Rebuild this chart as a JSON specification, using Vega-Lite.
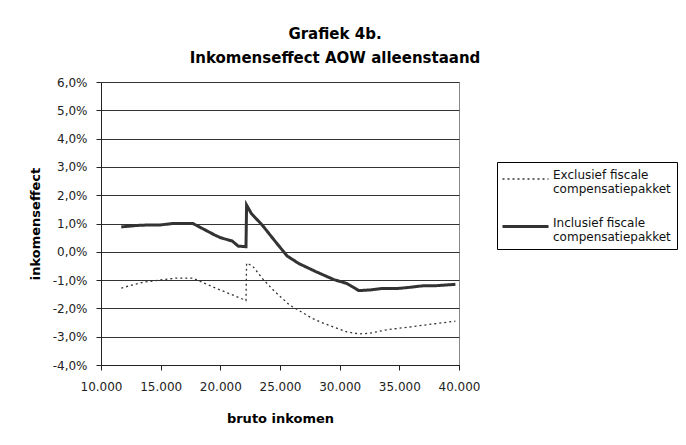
{
  "$schema": "https://vega.github.io/schema/vega-lite/v6.json",
  "width": 358,
  "height": 283,
  "autosize": "none",
  "padding": {"left": 101, "top": 82, "right": 227, "bottom": 80},
  "background": "white",
  "config": {
    "font": "DejaVu Sans",
    "view": {"stroke": "#888888", "strokeWidth": 1}
  },
  "title": {
    "text": ["Grafiek 4b.", "Inkomenseffect AOW alleenstaand"],
    "fontSize": 15,
    "fontWeight": "bold",
    "color": "#000",
    "anchor": "middle",
    "dx": 55,
    "offset": 10,
    "lineHeight": 24
  },
  "data": {
    "values": [
      {"serie": "Exclusief", "i": 1, "x": 11700, "y": -1.28},
      {"serie": "Exclusief", "i": 2, "x": 13500, "y": -1.08},
      {"serie": "Exclusief", "i": 3, "x": 15200, "y": -0.98},
      {"serie": "Exclusief", "i": 4, "x": 16300, "y": -0.93},
      {"serie": "Exclusief", "i": 5, "x": 17700, "y": -0.93},
      {"serie": "Exclusief", "i": 6, "x": 18600, "y": -1.1},
      {"serie": "Exclusief", "i": 7, "x": 19700, "y": -1.3},
      {"serie": "Exclusief", "i": 8, "x": 21000, "y": -1.52},
      {"serie": "Exclusief", "i": 9, "x": 22150, "y": -1.72},
      {"serie": "Exclusief", "i": 10, "x": 22200, "y": -0.4},
      {"serie": "Exclusief", "i": 11, "x": 22700, "y": -0.5},
      {"serie": "Exclusief", "i": 12, "x": 23600, "y": -0.98},
      {"serie": "Exclusief", "i": 13, "x": 24500, "y": -1.38},
      {"serie": "Exclusief", "i": 14, "x": 25800, "y": -1.88},
      {"serie": "Exclusief", "i": 15, "x": 27700, "y": -2.35},
      {"serie": "Exclusief", "i": 16, "x": 28500, "y": -2.5},
      {"serie": "Exclusief", "i": 17, "x": 30600, "y": -2.83},
      {"serie": "Exclusief", "i": 18, "x": 31600, "y": -2.9},
      {"serie": "Exclusief", "i": 19, "x": 32500, "y": -2.88},
      {"serie": "Exclusief", "i": 20, "x": 34000, "y": -2.75},
      {"serie": "Exclusief", "i": 21, "x": 36000, "y": -2.65},
      {"serie": "Exclusief", "i": 22, "x": 37800, "y": -2.55},
      {"serie": "Exclusief", "i": 23, "x": 39700, "y": -2.45},
      {"serie": "Inclusief", "i": 1, "x": 11700, "y": 0.88},
      {"serie": "Inclusief", "i": 2, "x": 13000, "y": 0.93},
      {"serie": "Inclusief", "i": 3, "x": 14000, "y": 0.95},
      {"serie": "Inclusief", "i": 4, "x": 15000, "y": 0.95},
      {"serie": "Inclusief", "i": 5, "x": 16000, "y": 1.0},
      {"serie": "Inclusief", "i": 6, "x": 17700, "y": 1.0},
      {"serie": "Inclusief", "i": 7, "x": 19500, "y": 0.6},
      {"serie": "Inclusief", "i": 8, "x": 20000, "y": 0.5},
      {"serie": "Inclusief", "i": 9, "x": 21000, "y": 0.38},
      {"serie": "Inclusief", "i": 10, "x": 21500, "y": 0.2},
      {"serie": "Inclusief", "i": 11, "x": 22150, "y": 0.18},
      {"serie": "Inclusief", "i": 12, "x": 22200, "y": 1.65},
      {"serie": "Inclusief", "i": 13, "x": 22600, "y": 1.35},
      {"serie": "Inclusief", "i": 14, "x": 23500, "y": 0.95},
      {"serie": "Inclusief", "i": 15, "x": 24500, "y": 0.42},
      {"serie": "Inclusief", "i": 16, "x": 25600, "y": -0.15},
      {"serie": "Inclusief", "i": 17, "x": 26600, "y": -0.42},
      {"serie": "Inclusief", "i": 18, "x": 28000, "y": -0.7},
      {"serie": "Inclusief", "i": 19, "x": 29500, "y": -0.98},
      {"serie": "Inclusief", "i": 20, "x": 30600, "y": -1.12},
      {"serie": "Inclusief", "i": 21, "x": 31600, "y": -1.37},
      {"serie": "Inclusief", "i": 22, "x": 32500, "y": -1.35},
      {"serie": "Inclusief", "i": 23, "x": 33500, "y": -1.3},
      {"serie": "Inclusief", "i": 24, "x": 34800, "y": -1.3},
      {"serie": "Inclusief", "i": 25, "x": 36000, "y": -1.25},
      {"serie": "Inclusief", "i": 26, "x": 37000, "y": -1.2},
      {"serie": "Inclusief", "i": 27, "x": 38000, "y": -1.2},
      {"serie": "Inclusief", "i": 28, "x": 39700, "y": -1.15}
    ]
  },
  "mark": {"type": "line", "color": "#333333"},
  "encoding": {
    "x": {
      "field": "x",
      "type": "quantitative",
      "scale": {"domain": [10000, 40000], "nice": false, "zero": false},
      "axis": {
        "title": "bruto inkomen",
        "titleFontSize": 13,
        "titleFontWeight": "bold",
        "titleColor": "#000",
        "titlePadding": 20,
        "values": [10000, 15000, 20000, 25000, 30000, 35000, 40000],
        "labelExpr": "replace(format(datum.value, ','), ',', '.')",
        "labelFontSize": 12,
        "labelColor": "#222",
        "labelPadding": 11,
        "labelOverlap": false,
        "labelFlush": false,
        "grid": false,
        "domainColor": "#222",
        "tickColor": "#222",
        "tickSize": 5
      }
    },
    "y": {
      "field": "y",
      "type": "quantitative",
      "scale": {"domain": [-4, 6], "nice": false},
      "axis": {
        "title": "inkomenseffect",
        "titleFontSize": 13,
        "titleFontWeight": "bold",
        "titleColor": "#000",
        "titlePadding": 10,
        "values": [-4, -3, -2, -1, 0, 1, 2, 3, 4, 5, 6],
        "labelExpr": "replace(replace(format(datum.value, '.1f'), '.', ','), '\u2212', '-') + '%'",
        "labelFontSize": 12,
        "labelColor": "#222",
        "labelPadding": 9,
        "labelOverlap": false,
        "grid": true,
        "gridColor": "#333333",
        "gridWidth": 1,
        "domainColor": "#222",
        "tickColor": "#222",
        "tickSize": 5
      }
    },
    "order": {"field": "i", "type": "quantitative"},
    "strokeDash": {
      "field": "serie",
      "type": "nominal",
      "scale": {"domain": ["Exclusief", "Inclusief"], "range": [[2, 3], [1, 0]]},
      "legend": {
        "title": null,
        "orient": "none",
        "legendX": 396,
        "legendY": 80,
        "strokeColor": "#000",
        "padding": 6,
        "fillColor": "white",
        "labelFontSize": 12,
        "labelColor": "#111",
        "labelBaseline": "alphabetic",
        "labelExpr": "datum.value == 'Exclusief' ? ['Exclusief fiscale', 'compensatiepakket'] : ['Inclusief fiscale', 'compensatiepakket']",
        "symbolType": "M-1.2,0H3.4",
        "symbolSize": 400,
        "symbolStrokeColor": "#333",
        "rowPadding": 20,
        "labelOffset": 27
      }
    },
    "strokeWidth": {
      "field": "serie",
      "type": "nominal",
      "scale": {"domain": ["Exclusief", "Inclusief"], "range": [1.3, 3]},
      "legend": null
    }
  }
}
